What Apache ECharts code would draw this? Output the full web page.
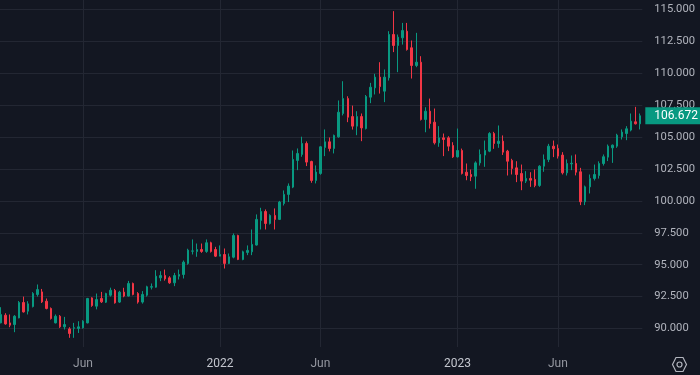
<!DOCTYPE html>
<html><head><meta charset="utf-8">
<script src="https://cdn.jsdelivr.net/npm/echarts@6/dist/echarts.min.js"></script>
<style>html,body{margin:0;padding:0;background:#131722}#c{width:700px;height:375px}</style>
</head><body><div id="c"></div><script>
const firstWeek = '2021-02-01';
const opens = [
90.44,91.04,90.44,90.31,90.83,92.04,91.36,91.72,92.66,92.87,
92.14,91.57,90.44,90.96,90.13,89.97,90.02,90.00,90.05,90.44,
92.40,91.75,92.35,92.06,92.61,92.98,92.07,92.85,92.54,93.53,
92.74,92.07,92.61,93.24,93.24,93.97,94.15,93.97,93.58,94.10,
94.23,95.10,96.06,96.04,96.19,96.04,96.72,96.19,95.67,95.80,
95.10,95.59,97.29,95.41,95.96,96.01,96.54,98.47,99.17,98.23,
98.86,98.55,99.80,100.51,101.08,103.17,103.64,104.50,103.09,101.60,
102.15,104.19,104.63,104.11,105.02,106.85,108.02,106.61,105.86,106.61,
105.67,108.13,108.86,109.70,108.60,109.65,113.04,112.18,112.78,113.30,
112.00,110.61,110.87,106.38,107.03,106.17,104.55,104.94,104.94,104.34,
103.45,103.95,102.25,102.07,101.94,102.98,103.59,103.90,105.28,104.50,
104.68,103.90,103.17,102.59,102.15,101.55,101.76,101.68,101.21,102.72,
103.24,104.29,104.11,103.59,102.20,102.90,102.93,102.28,99.93,101.10,
101.76,101.99,102.93,103.43,104.16,104.29,105.02,105.28,105.55,106.20,
106.04];
const closes = [
91.09,90.36,90.26,90.96,92.04,91.30,91.93,92.74,93.05,92.09,
91.57,90.78,90.96,90.13,90.31,89.61,90.06,90.13,90.57,92.35,
91.80,92.27,92.09,92.74,93.00,92.01,92.85,92.54,93.53,92.67,
92.07,92.67,93.27,93.28,94.10,94.15,93.89,93.58,94.15,94.23,
95.20,96.14,96.08,96.19,96.04,96.72,96.04,95.67,95.80,95.10,
95.62,97.29,95.41,96.01,96.12,96.59,98.55,99.17,98.23,98.86,
98.55,99.91,100.51,101.16,103.25,103.72,104.50,103.04,101.60,102.26,
104.24,104.63,104.11,105.13,106.95,108.02,106.56,105.86,106.61,105.72,
108.18,108.91,109.70,108.96,109.70,113.04,112.18,112.83,113.35,111.86,
110.61,110.87,106.38,107.03,106.06,104.55,104.94,104.81,104.29,103.45,
103.95,102.15,101.99,101.89,102.98,103.64,103.95,105.28,104.50,104.68,
103.82,103.11,102.54,102.07,101.55,101.76,101.62,101.21,102.72,103.24,
104.29,104.08,103.51,102.20,102.93,102.95,102.25,99.93,101.10,101.76,
102.07,102.93,103.46,104.29,104.37,105.15,105.39,105.65,106.25,106.04,
106.672];
const lows = [
90.40,90.30,90.10,89.71,90.80,91.25,91.10,91.65,92.50,92.00,
91.50,90.70,90.40,90.05,89.92,89.27,89.27,89.65,90.00,90.40,
91.70,91.50,92.00,92.00,92.50,91.95,92.00,92.45,92.50,92.60,
91.95,91.95,92.50,93.06,93.20,93.71,93.75,93.50,93.32,93.84,
93.92,95.00,95.80,95.62,95.93,95.93,95.95,95.60,95.67,94.70,
95.05,95.50,95.36,95.35,95.75,95.75,96.50,97.76,97.76,98.15,
97.76,98.50,99.64,99.91,101.00,102.41,103.46,102.73,101.42,101.37,
102.05,103.51,103.88,103.72,104.95,106.70,106.17,105.59,105.15,104.68,
105.60,107.66,108.34,108.41,107.74,109.43,111.66,110.09,112.25,111.78,
109.59,110.48,106.30,105.38,105.67,104.42,104.24,103.51,103.90,103.37,
103.40,102.07,101.62,101.55,100.95,102.77,102.67,103.82,104.08,104.16,
103.60,101.99,102.07,101.47,100.84,101.40,101.10,101.07,101.10,102.28,
103.04,103.43,103.32,102.07,101.99,102.41,102.00,99.67,99.67,100.58,
101.60,101.75,102.77,103.12,102.98,104.16,104.81,104.76,105.45,105.99,
105.60];
const highs = [
91.67,91.20,91.10,91.05,92.15,92.50,92.14,92.85,93.45,93.10,
92.35,91.65,91.10,91.05,90.91,90.10,90.44,90.57,90.65,92.40,
92.45,92.74,92.87,92.80,93.20,93.10,92.95,93.19,93.73,93.60,
92.85,92.93,93.35,93.53,94.57,94.49,94.62,94.10,94.36,94.62,
95.33,96.25,96.98,96.66,96.66,96.98,96.80,96.40,96.51,96.27,
95.88,97.45,97.35,96.10,96.51,97.76,98.94,99.46,99.33,98.95,
99.41,100.00,100.82,101.37,103.95,104.11,105.03,104.66,103.15,102.78,
104.30,105.60,104.97,105.20,107.87,109.38,108.20,107.47,107.03,106.85,
108.30,109.25,109.96,110.87,110.30,113.30,114.87,113.04,113.95,113.95,
112.57,113.17,111.34,107.34,108.02,107.24,105.86,105.28,105.07,104.60,
105.67,104.10,102.93,102.46,103.10,104.03,104.73,105.39,105.41,105.91,
105.13,104.00,103.30,103.11,102.85,102.33,102.25,102.46,102.80,103.64,
104.47,104.73,104.42,103.82,103.25,103.56,103.64,102.59,101.20,102.07,
102.85,103.10,103.64,104.42,104.42,105.26,105.60,105.86,106.85,107.37,
106.85];
const priceTicks = [90, 92.5, 95, 97.5, 100, 102.5, 105, 107.5, 110, 112.5, 115];
const timeTickDates = ['2021-06-07', '2022-01-03', '2022-06-06', '2023-01-02', '2023-06-05'];
const timeTickLabels = ['Jun', '2022', 'Jun', '2023', 'Jun'];

// weekly category labels
const categories = [];
{
  const t0 = Date.parse(firstWeek + 'T00:00:00Z');
  for (let i = 0; i < closes.length; i++) {
    categories.push(new Date(t0 + i * 7 * 86400000).toISOString().slice(0, 10));
  }
}
const candles = categories.map((c, i) => [opens[i], closes[i], lows[i], highs[i]]);

const UP = '#089981', DOWN = '#f23645', GRID = '#232733', TXT = '#b2b5be';
const lastClose = closes[closes.length - 1];

const chart = echarts.init(document.getElementById('c'), null, {renderer: 'canvas'});
const markData = [];
priceTicks.forEach(v => markData.push({yAxis: v, lineStyle: {color: GRID, width: 1, type: 'solid', opacity: 1}, label: {show: false}}));
timeTickDates.forEach(d => markData.push([
  {coord: [d, 88.55], lineStyle: {color: GRID, width: 1, type: 'solid', opacity: 1}, label: {show: false}},
  {coord: [d, 117.5]}
]));
markData.push({yAxis: lastClose, lineStyle: {color: 'rgba(0,0,0,0)', width: 1, opacity: 1}, label: {
  show: true, position: 'end', distance: 3, formatter: () => lastClose.toFixed(3),
  color: '#ffffff', backgroundColor: UP, fontSize: 12, fontFamily: 'Roboto, sans-serif',
  padding: [3, 6, 2, 9], lineHeight: 12
}});

chart.setOption({
  animation: false,
  backgroundColor: '#131722',
  grid: {left: -1.48, right: 57.7, top: -22.4, bottom: 14.6, containLabel: false, outerBoundsMode: 'none'},
  xAxis: {
    type: 'category', data: categories, boundaryGap: true,
    axisLine: {show: false}, axisTick: {show: false}, splitLine: {show: false},
    axisLabel: {
      interval: (idx, val) => timeTickDates.indexOf(val) >= 0,
      formatter: val => {
        const k = timeTickDates.indexOf(val);
        const s = k >= 0 ? timeTickLabels[k] : '';
        return /^\d{4}$/.test(s) ? '{y|' + s + '}' : s;
      },
      margin: -2, color: '#9598a1', fontSize: 12, fontFamily: 'Roboto, sans-serif',
      rich: {y: {color: '#c3c6ce', fontSize: 12, fontFamily: 'Roboto, sans-serif'}}
    }
  },
  yAxis: {
    type: 'value', position: 'right', min: 87.5, max: 117.5, interval: 2.5, scale: true,
    axisLine: {show: false}, axisTick: {show: false}, splitLine: {show: false},
    axisLabel: {
      showMinLabel: false, showMaxLabel: false,
      formatter: v => v.toFixed(3), color: TXT, fontSize: 11.2, fontFamily: 'Roboto, sans-serif',
      margin: 12, align: 'left', padding: [3, 0, 0, 0]
    }
  },
  series: [{
    type: 'candlestick', data: candles, barWidth: 2,
    itemStyle: {color: UP, color0: DOWN, borderColor: UP, borderColor0: DOWN, borderWidth: 1},
    markLine: {silent: true, symbol: ['none', 'none'], z: 1, precision: 3, data: markData, animation: false}
  }],
  graphic: [{
    type: 'group', left: 670, top: 355, children: [
      {type: 'polygon', shape: {points: [[3.5, 0], [10.5, 0], [14, 7], [10.5, 14], [3.5, 14], [0, 7]]},
       style: {fill: 'none', stroke: TXT, lineWidth: 1.2}},
      {type: 'circle', shape: {cx: 7, cy: 7, r: 2.5}, style: {fill: 'none', stroke: TXT, lineWidth: 1.2}}
    ]
  }]
});
</script></body></html>
